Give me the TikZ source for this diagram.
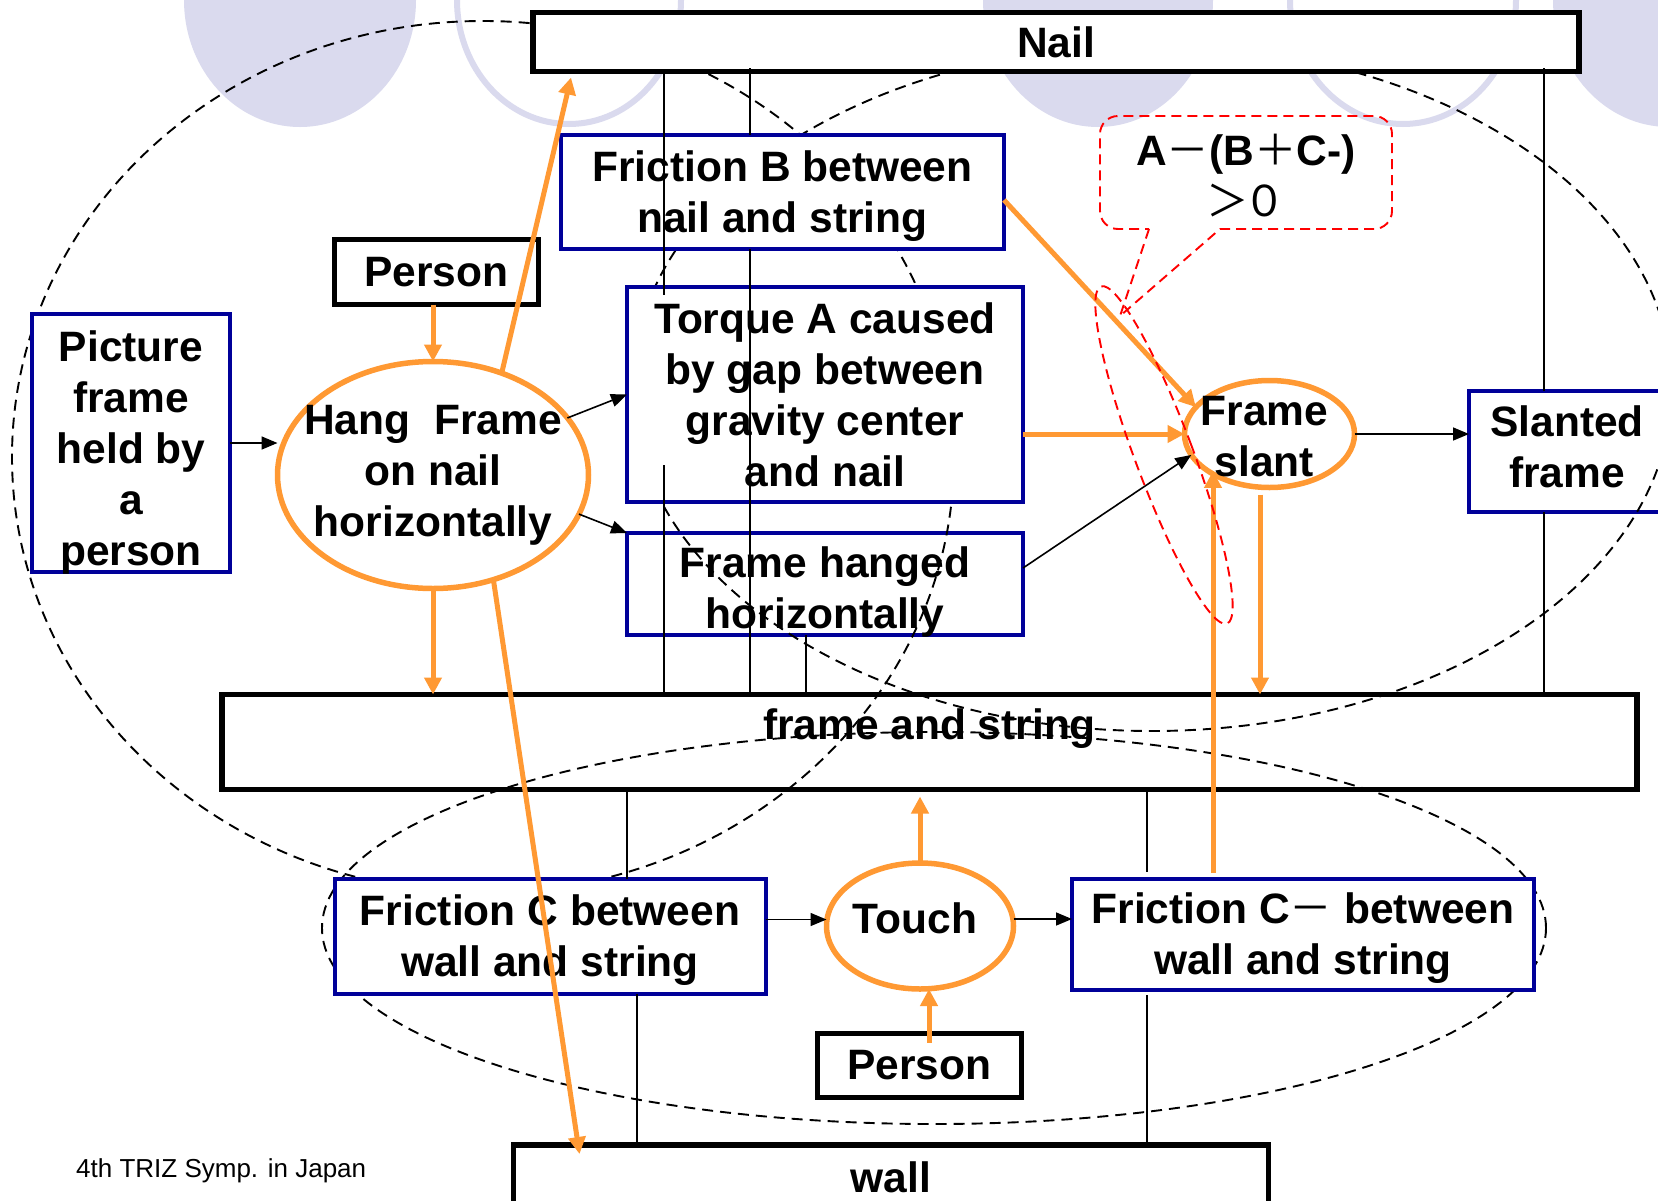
\documentclass[tikz,border=0pt]{standalone}
\usepackage{fontspec}
\setmainfont{Liberation Sans}
\newfontfamily\jpfont{Noto Sans CJK JP}
\usetikzlibrary{arrows.meta,shapes.geometric,calc}
\definecolor{lavender}{RGB}{218,218,238}
\definecolor{pumpkin}{RGB}{255,153,51}
\definecolor{navyline}{RGB}{0,0,153}
\newcommand{\lblfont}{\fontsize{42.5}{51}\selectfont\bfseries}
\newcommand{\wide}[1]{{\jpfont\mdseries #1}}

\begin{document}
\begin{tikzpicture}[x=1pt,y=-1pt,
  heavybox/.style={draw=black,line width=5.5pt,fill=white,inner sep=0pt,outer sep=0pt,font=\lblfont,align=center},
  bluebox/.style={draw=navyline,line width=4pt,fill=white,inner sep=0pt,outer sep=0pt,font=\lblfont,align=center},
  orangeell/.style={ellipse,draw=pumpkin,line width=5.5pt,fill=white,inner sep=0pt,outer sep=0pt},
  ovaltext/.style={font=\lblfont,align=center},
  blkarrow/.style={line width=1.6pt,-{Triangle[length=16pt,width=13pt]}},
  orgarrow/.style={draw=pumpkin,line width=5pt,-{Triangle[length=17pt,width=17pt]}},
  relline/.style={line width=1.6pt},
  ovaldash/.style={line width=1.9pt,dash pattern=on 11pt off 7pt},
  reddash/.style={draw=red,line width=1.9pt,dash pattern=on 10pt off 6pt},
  lavfill/.style={fill=lavender},
  lavring/.style={draw=lavender,line width=6pt}
]
\path[use as bounding box] (0,0) rectangle (1658,1200);
\fill[white] (0,0) rectangle (1658,1200);
\clip (0,0) rectangle (1658,1200);

% decorative ovals along the top edge
\fill[lavfill] (300,0) ellipse [x radius=116pt, y radius=127pt];
\draw[lavring] (569,0) ellipse [x radius=112pt, y radius=124pt];
\fill[lavfill] (1098,0) ellipse [x radius=115pt, y radius=127pt];
\draw[lavring] (1403,0) ellipse [x radius=113pt, y radius=124pt];
\fill[lavfill] (1669,0) ellipse [x radius=116pt, y radius=127pt];

% boxes that the grouping ovals run across
\node[bluebox, minimum width=396pt, minimum height=102pt,
      label={[ovaltext,yshift=-8.5pt]center:Frame hanged\\horizontally}] (hanged) at (825,584) {};
\node[heavybox, minimum width=1415pt, minimum height=95pt] (fs) at (929.5,742) {};
\node[bluebox, minimum width=196pt, minimum height=121pt,
      label={[ovaltext,yshift=5pt]center:Slanted\\frame}] (slanted) at (1567,451.5) {};

% grouping ovals
\draw[ovaldash] (483,457) ellipse [x radius=471pt, y radius=436pt];
\draw[ovaldash] (1152,388) ellipse [x radius=520pt, y radius=343pt];
\draw[ovaldash] (934,928) ellipse [x radius=612pt, y radius=196pt];

% main boxes
\node[heavybox, minimum width=1046pt, minimum height=59pt] (nail) at (1056,42) {Nail};
\node[heavybox, minimum width=204pt, minimum height=65pt] (person1) at (436.5,272) {Person};
\node[bluebox, minimum width=198pt, minimum height=258pt,
      label={[ovaltext,yshift=-9.5pt]center:Picture\\frame\\held by\\a\\person}] (picture) at (131,443) {};
\node[orangeell, minimum width=311pt, minimum height=227pt,
      label={[ovaltext]center:Hang\ \ Frame\\on nail\\horizontally}] (hang) at (433,475) {};
\node[bluebox, minimum width=443pt, minimum height=114pt,
      label={[ovaltext,yshift=-4pt]center:Friction B between\\nail and string}] (fricB) at (782.5,192) {};
\node[bluebox, minimum width=396pt, minimum height=215pt] (torque) at (825,394.5) {Torque A caused\\by gap between\\gravity center\\and nail};
\node[orangeell, minimum width=170pt, minimum height=107pt,
      label={[ovaltext,xshift=-5pt,yshift=-2.5pt]center:Frame\\slant}] (slant) at (1269.5,434) {};
\node[bluebox, minimum width=431pt, minimum height=115pt,
      label={[ovaltext,yshift=-4pt]center:Friction C between\\wall and string}] (fricC) at (550,936.5) {};
\node[orangeell, minimum width=187pt, minimum height=126pt,
      label={[ovaltext,xshift=-5pt,yshift=8pt]center:Touch}] (touch) at (920,926) {};
\node[bluebox, minimum width=462pt, minimum height=111pt,
      label={[ovaltext,yshift=-4pt]center:Friction C\wide{－} between\\wall and string}] (fricCm) at (1303,934.5) {};
\node[heavybox, minimum width=204pt, minimum height=64pt] (person2) at (919.5,1065.5) {Person};
\node[heavybox, minimum width=755pt, minimum height=70pt,
      label={[ovaltext,yshift=3pt]center:wall}] (wall) at (891,1180) {};
\node[font=\lblfont, inner sep=0pt] (fstext) at (929.5,729) {frame and string};

% relation lines between the boxes and the bars
\coordinate (xa) at (664,0);
\coordinate (xb) at (750,0);
\coordinate (xc) at (806,0);
\coordinate (xd) at (627,0);
\coordinate (xe) at (637,0);
\coordinate (xf) at (1147,0);
\coordinate (xg) at (1544,0);
\draw[relline] (xa |- nail.south) -- (664,295);
\draw[relline] (664,465) -- (xa |- fs.north);
\draw[relline] (750,68) -- (xb |- fricB.north);
\draw[relline] (xb |- fricB.south) -- (xb |- fs.north);
\draw[relline] (xc |- hanged.south) -- (xc |- fs.north);
\draw[relline] (xd |- fs.south) -- (xd |- fricC.north);
\draw[relline] (xe |- fricC.south) -- (xe |- wall.north);
\draw[relline] (xf |- fs.south) -- (1147,872);
\draw[relline] (1147,995) -- (xf |- wall.north);
\draw[relline] (1544,68) -- (xg |- slanted.north);
\draw[relline] (xg |- slanted.south) -- (xg |- fs.north);

% thin black arrows
\draw[blkarrow] (picture.east) -- (picture.east -| hang.west);
\draw[blkarrow] (hang.23) -- (torque.west);
\draw[blkarrow] (hang.-15) -- (hanged.north west);
\draw[blkarrow] ([yshift=16pt]hanged.east) -- (slant.195);
\draw[blkarrow] (slant.east) -- (slant.east -| slanted.west);
\coordinate (cinC) at ([yshift=17pt]fricC.east);
\draw[blkarrow] (cinC) -- (cinC -| touch.west);
\coordinate (ctouchE) at ([yshift=7pt]touch.east);
\draw[blkarrow] (ctouchE) -- (ctouchE -| fricCm.west);

% orange arrows
\draw[orgarrow] (person1.south -| hang.north) -- (hang.north);
\draw[orgarrow] (hang.56) -- ($(nail.south west)+(38,6)$);
\draw[orgarrow] (hang.south) -- (hang.south |- fs.north);
\draw[orgarrow] (hang.-60) -- ($(wall.north west)+(66,9)$);
\draw[orgarrow] ([yshift=-8pt]fricB.east) -- (slant.160);
\draw[orgarrow] (torque.east |- slant.west) -- (slant.west);
\coordinate (cCup) at ($(fricCm.north west)+(141,-6)$);
\draw[orgarrow] (cCup) -- (cCup |- slant.211);
\coordinate (cslantdown) at ($(slant.south)+(-9.5,7)$);
\draw[orgarrow] (cslantdown) -- (cslantdown |- fs.north);
\draw[orgarrow] (touch.north) -- ($(touch.north |- fs.south)+(0,7)$);
\coordinate (cperson) at ($(person2.north)+(9.5,9)$);
\draw[orgarrow] (cperson) -- (cperson |- touch.south);

% condition callout
\node[font=\lblfont, align=center, inner sep=0pt] (cond) at (1246,176) {A\wide{－}(B\wide{＋}C-)\\\wide{＞}\kern-6pt\wide{０}};
\draw[reddash, rounded corners=18pt] (1220,229) -- (1392,229) -- (1392,116) -- (1100,116) -- (1100,229) -- (1149,229);
\draw[reddash] (1149,229) -- (1120,316) -- (1220,229);
\draw[reddash, rotate around={20.5:(1164,455)}] (1164,455) ellipse [x radius=29pt, y radius=180pt];

% footer
\node[anchor=west, inner sep=0pt, font=\fontsize{26}{30}\selectfont] (footer) at (76,1171) {4th TRIZ Symp. in Japan};
\end{tikzpicture}
\end{document}
